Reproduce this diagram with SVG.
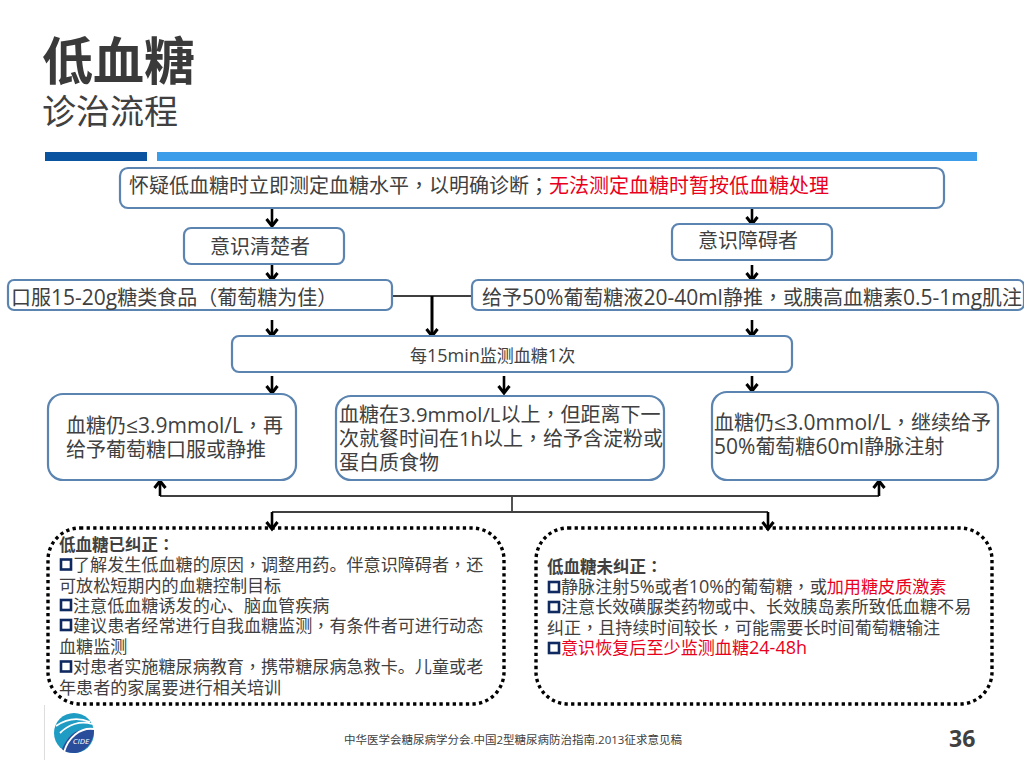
<svg xmlns="http://www.w3.org/2000/svg" width="1024" height="768" viewBox="0 0 1024 768">
<defs>
<marker id="ah" markerUnits="userSpaceOnUse" markerWidth="14" markerHeight="14" refX="11" refY="7" orient="auto" viewBox="0 0 14 14"><path d="M4 1.500 L11 7 L4 12.500" fill="none" stroke="#000" stroke-width="3"/></marker>
</defs>
<style>
text{font-family:"Open Sans","Noto Sans CJK SC",sans-serif;fill:#404040}
.n{fill:#fff;stroke:#5b84b1;stroke-width:2.2}
.t{font-size:20px}
.a{font-size:21px}
.a2{font-size:20.300px}
.e{font-size:18px}
.s{font-size:17.100px}
.h{font-size:16.500px;font-weight:700}
.r{fill:#e8001c}
.p{font-family:"Noto Sans CJK TC",sans-serif}
.b{fill:#fff;stroke:#0f2a60;stroke-width:2.600}
.d{fill:none;stroke:#000;stroke-width:3.400;stroke-dasharray:3.300 3.300}
.c{fill:none;stroke:#000;stroke-width:2.600}
.l{fill:none;stroke:#404040;stroke-width:1.800}
</style>
<rect width="1024" height="768" fill="#fff"/>
<g id="title">
<text x="42" y="80" font-size="51" font-weight="700" style="fill:#3a3a3a">低血糖</text>
<text x="42" y="124" font-size="34">诊治流程</text>
<rect x="45" y="152" width="102" height="9" fill="#0a53a0"/>
<rect x="157" y="152" width="820" height="9" fill="#3c9eea"/>
</g>
<g id="connectors">
<path class="c" marker-end="url(#ah)" d="M272 209V226"/>
<path class="c" marker-end="url(#ah)" d="M752 209V224"/>
<path class="c" marker-end="url(#ah)" d="M272 265V280"/>
<path class="c" marker-end="url(#ah)" d="M752 265V280"/>
<path class="c" marker-end="url(#ah)" d="M272 320V336"/>
<path class="c" marker-end="url(#ah)" d="M752 320V336"/>
<path class="l" d="M393 296H472"/>
<path class="c" style="stroke-width:3" marker-end="url(#ah)" d="M432 296V336"/>
<path class="c" marker-end="url(#ah)" d="M272 376V393"/>
<path class="c" marker-end="url(#ah)" d="M504 376V393"/>
<path class="c" marker-end="url(#ah)" d="M752 376V391"/>
<path class="l" d="M160 496H879M512 496V512M272 512H768"/>
<path class="c" marker-end="url(#ah)" d="M160 496V481"/>
<path class="c" marker-end="url(#ah)" d="M879 496V481"/>
<path class="c" marker-end="url(#ah)" d="M272 512V529"/>
<path class="c" marker-end="url(#ah)" d="M768 512V529"/>
</g>
<g id="n-start"><rect class="n" x="120" y="168" width="824" height="40" rx="8"/>
<text class="t" x="129" y="193">怀疑低血糖时立即测定血糖水平<tspan class="p">，</tspan>以明确诊断<tspan class="p">；</tspan><tspan class="r">无法测定血糖时暂按低血糖处理</tspan></text></g>
<g id="n-clear"><rect class="n" x="184" y="228" width="160" height="36" rx="7"/><text class="t" x="210" y="254">意识清楚者</text></g>
<g id="n-impaired"><rect class="n" x="672" y="224" width="160" height="36" rx="7"/><text class="t" x="698" y="248">意识障碍者</text></g>
<g id="n-oral"><rect class="n" x="8" y="280" width="384" height="30" rx="6"/><text class="t" x="11" y="305">口服<tspan class="a">15-20g</tspan>糖类食品（葡萄糖为佳）</text></g>
<g id="n-iv"><rect class="n" x="472" y="280" width="552" height="30" rx="6"/><text class="t" x="482" y="305">给予<tspan class="a">50%</tspan>葡萄糖液<tspan class="a">20-40ml</tspan>静推<tspan class="p">，</tspan>或胰高血糖素<tspan class="a">0.5-1mg</tspan>肌注</text></g>
<g id="n-monitor"><rect class="n" x="232" y="336" width="560" height="36" rx="7"/><text x="410" y="362" font-size="17">每<tspan class="e">15min</tspan>监测血糖<tspan class="e">1</tspan>次</text></g>
<g id="n-r1"><rect class="n" x="48" y="394" width="248" height="86" rx="15"/><text class="t"><tspan x="66" y="433">血糖仍<tspan class="a">≤3.9mmol/L</tspan><tspan class="p">，</tspan>再</tspan><tspan x="66" y="457">给予葡萄糖口服或静推</tspan></text></g>
<g id="n-r2"><rect class="n" x="336" y="396" width="328" height="84" rx="15"/><text class="t"><tspan x="339" y="422">血糖在<tspan class="a2">3.9mmol/L</tspan>以上<tspan class="p">，</tspan>但距离下一</tspan><tspan x="339" y="446">次就餐时间在<tspan class="a2">1h</tspan>以上<tspan class="p">，</tspan>给予含淀粉或</tspan><tspan x="339" y="470">蛋白质食物</tspan></text></g>
<g id="n-r3"><rect class="n" x="712" y="392" width="286" height="88" rx="15"/><text class="t"><tspan x="714" y="430">血糖仍<tspan class="a">≤3.0mmol/L</tspan><tspan class="p">，</tspan>继续给予</tspan><tspan x="714" y="454"><tspan class="a">50%</tspan>葡萄糖<tspan class="a">60ml</tspan>静脉注射</tspan></text></g>
<g id="n-corrected"><rect class="d" x="48" y="528" width="456" height="176" rx="32"/>
<text class="s"><tspan x="59" y="551" class="h">低血糖已纠正<tspan class="p">：</tspan></tspan><tspan x="73" y="571">了解发生低血糖的原因<tspan class="p">，</tspan>调整用药。伴意识障碍者<tspan class="p">，</tspan>还</tspan><tspan x="59" y="592">可放松短期内的血糖控制目标</tspan><tspan x="73" y="612">注意低血糖诱发的心、脑血管疾病</tspan><tspan x="73" y="632">建议患者经常进行自我血糖监测<tspan class="p">，</tspan>有条件者可进行动态</tspan><tspan x="59" y="653">血糖监测</tspan><tspan x="73" y="673">对患者实施糖尿病教育<tspan class="p">，</tspan>携带糖尿病急救卡。儿童或老</tspan><tspan x="59" y="694">年患者的家属要进行相关培训</tspan></text>
<rect class="b" x="61" y="559.500" width="10" height="10"/><rect class="b" x="61" y="600" width="10" height="10"/><rect class="b" x="61" y="620" width="10" height="10"/><rect class="b" x="61" y="661.500" width="10" height="10"/></g>
<g id="n-uncorrected"><rect class="d" x="536" y="528" width="456" height="176" rx="32"/>
<text class="s"><tspan x="547" y="573" class="h">低血糖未纠正<tspan class="p">：</tspan></tspan><tspan x="561" y="593">静脉注射<tspan class="e">5%</tspan>或者<tspan class="e">10%</tspan>的葡萄糖<tspan class="p">，</tspan>或<tspan class="r">加用糖皮质激素</tspan></tspan><tspan x="561" y="613">注意长效磺脲类药物或中、长效胰岛素所致低血糖不易</tspan><tspan x="547" y="634">纠正<tspan class="p">，</tspan>且持续时间较长<tspan class="p">，</tspan>可能需要长时间葡萄糖输注</tspan><tspan x="561" y="654" class="r">意识恢复后至少监测血糖<tspan class="e">24-48h</tspan></tspan></text>
<rect class="b" x="549" y="582" width="10" height="10"/><rect class="b" x="549" y="602" width="10" height="10"/><rect class="b" x="549" y="643" width="10" height="10"/></g>
<g id="footer">
<path d="M44.500 705V760" stroke="#ddd" fill="none"/>
<circle cx="74" cy="733" r="20" fill="#1f9cc4"/>
<path d="M62 749C68 735 78 726 94 730C94 743 84 753 74 753C69 753 65 752 62 749Z" fill="#2a4d9b"/>
<path d="M56 726C66 719 78 717 90 722M60 733C68 725 80 720 92 724M64 752C68 738 80 727 94 729" stroke="#fff" stroke-width="1.800" fill="none"/>
<text x="81" y="744" font-size="8" font-style="italic" text-anchor="middle" style="fill:#fff">CIDE</text>
<text x="344" y="744" font-size="11.500">中华医学会糖尿病学分会.中国2型糖尿病防治指南.2013征求意见稿</text>
<text x="949" y="747" font-size="23" font-weight="700">36</text>
</g>
</svg>
